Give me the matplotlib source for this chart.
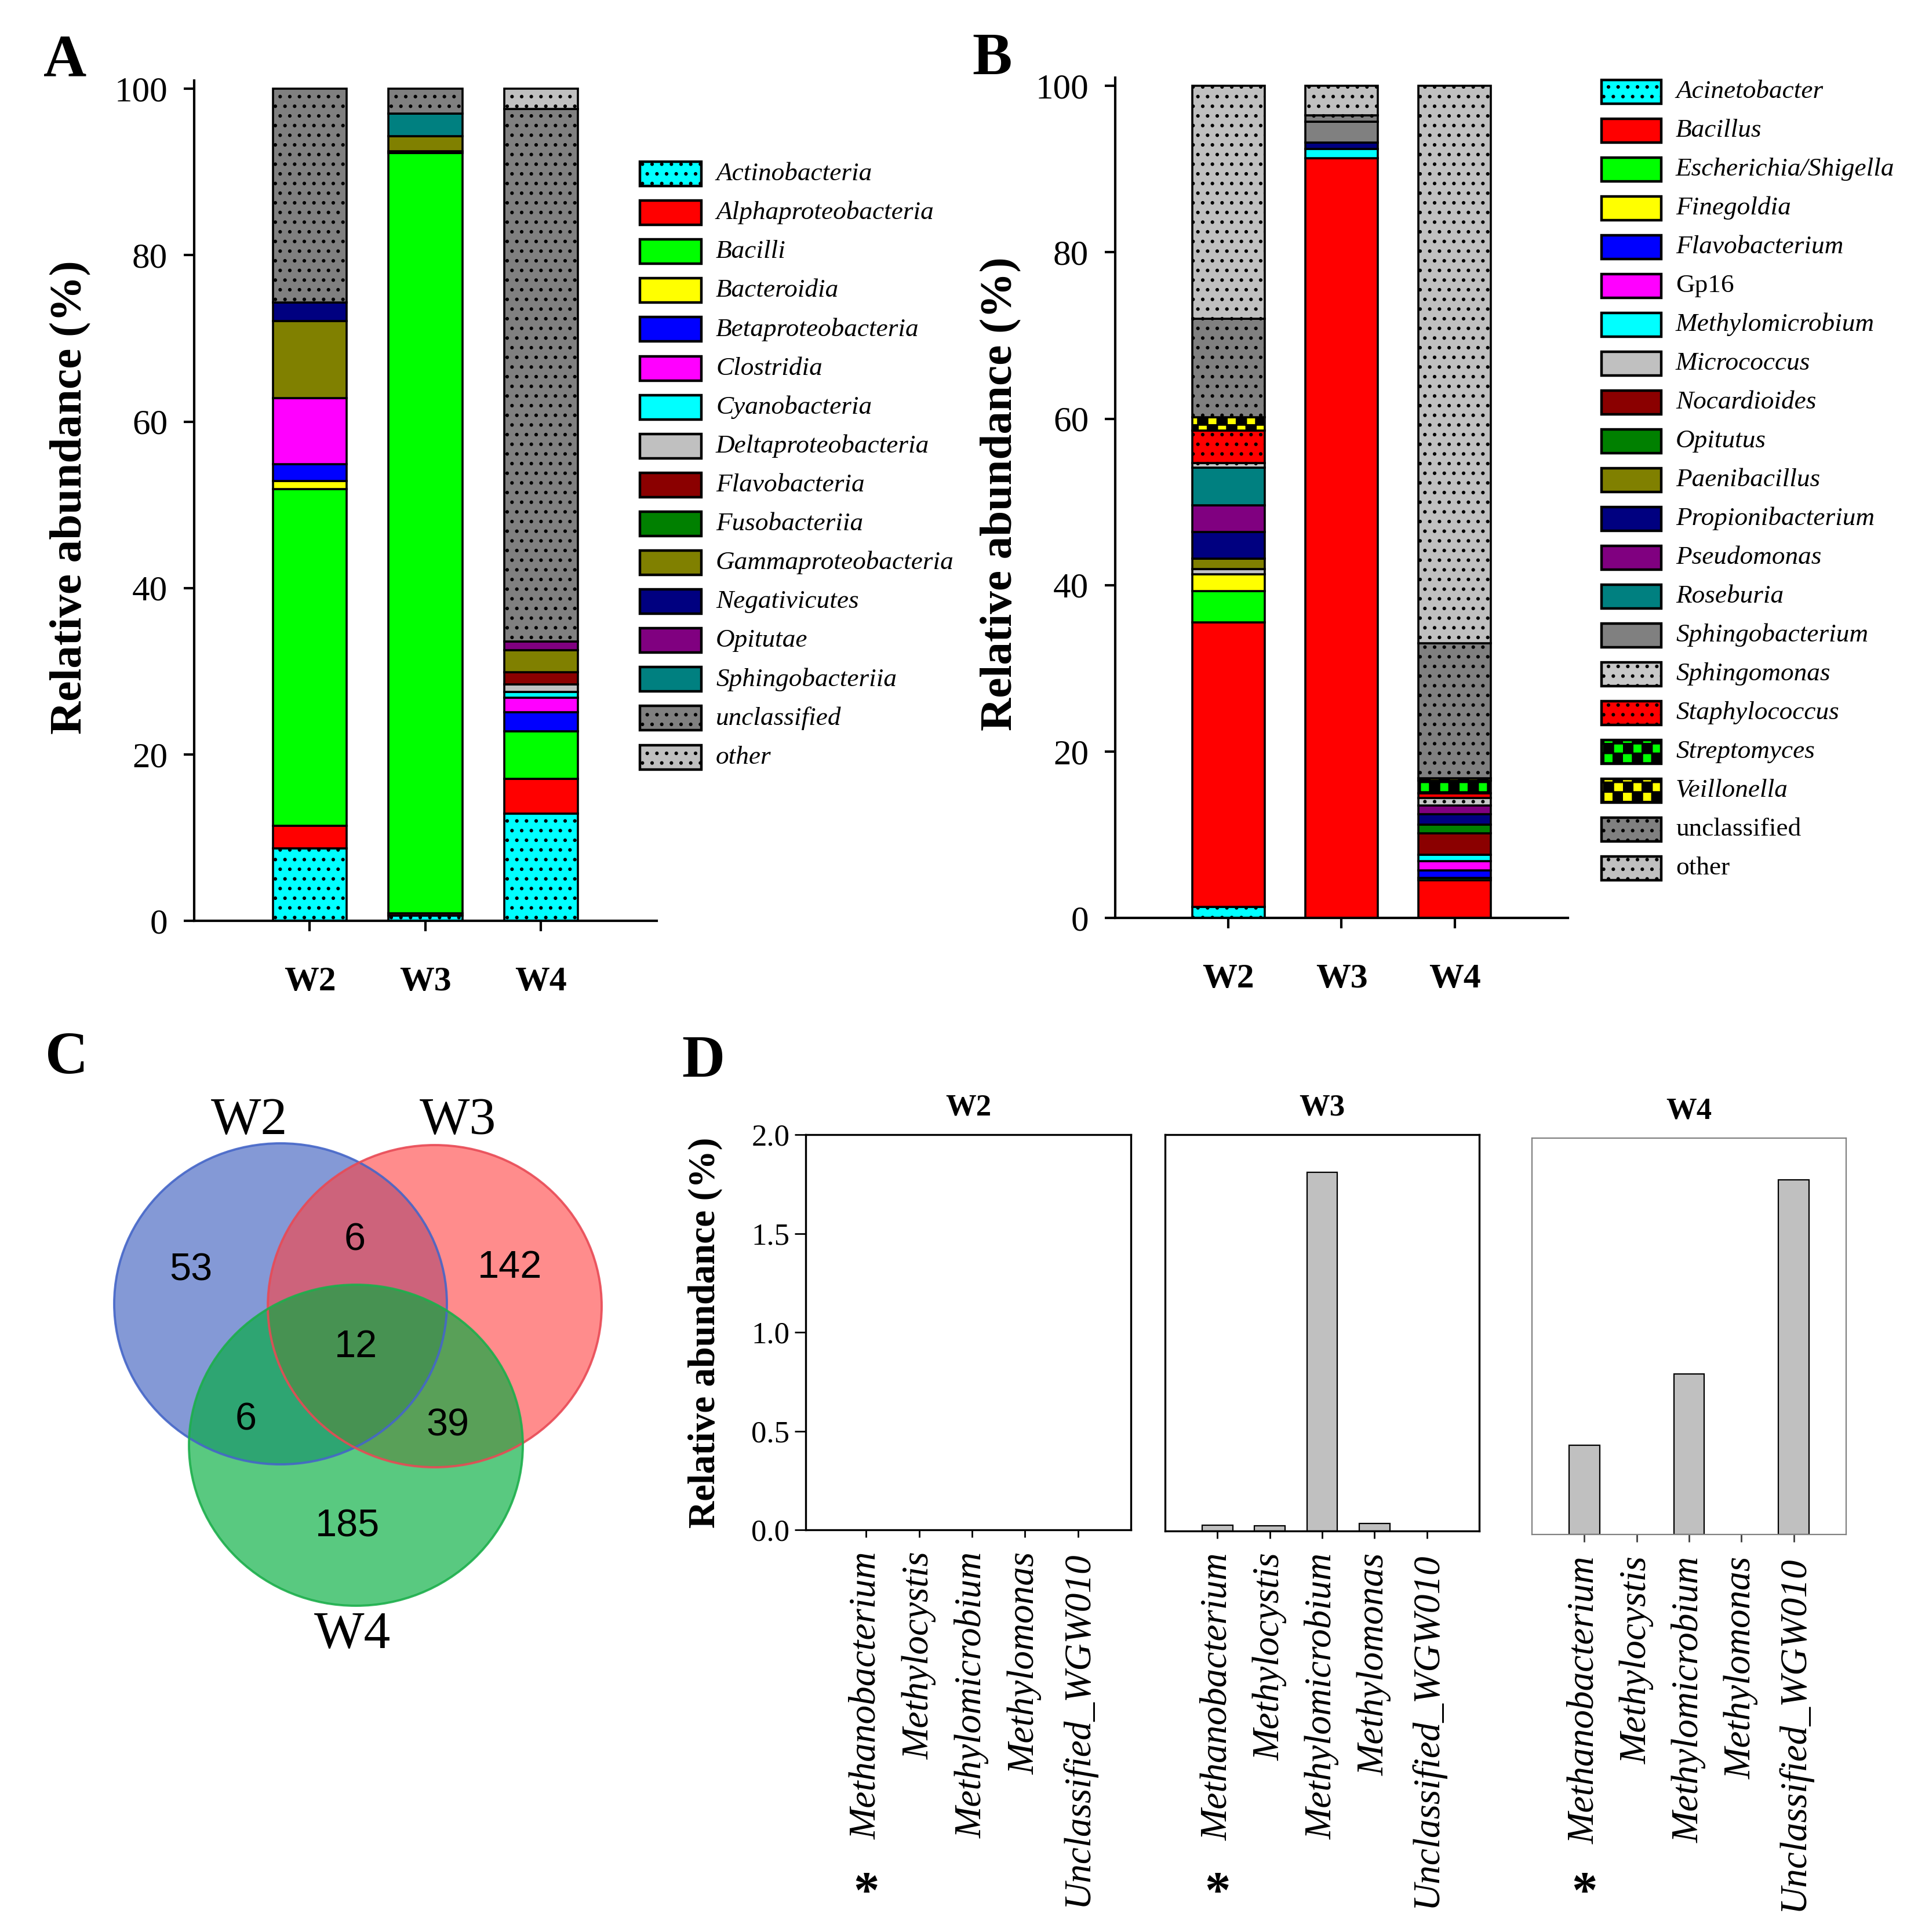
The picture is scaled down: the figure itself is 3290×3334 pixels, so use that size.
import warnings
warnings.filterwarnings("ignore")
import numpy as np
import matplotlib
matplotlib.use("Agg")
import matplotlib.pyplot as plt
from matplotlib.patches import Rectangle, Ellipse
from matplotlib.path import Path
from matplotlib.transforms import blended_transform_factory
import matplotlib.hatch as mhatch

# ---------------- data ----------------
samples = ["W2", "W3", "W4"]

classes_A = ["Actinobacteria", "Alphaproteobacteria", "Bacilli", "Bacteroidia",
             "Betaproteobacteria", "Clostridia", "Cyanobacteria", "Deltaproteobacteria",
             "Flavobacteria", "Fusobacteriia", "Gammaproteobacteria", "Negativicutes",
             "Opitutae", "Sphingobacteriia", "unclassified", "other"]
A_W2 = [8.7, 2.7, 40.5, 1.0, 2.0, 7.9, 0, 0, 0, 0, 9.3, 2.2, 0, 0, 25.7, 0]
A_W3 = [0.6, 0.3, 91.4, 0, 0.2, 0, 0, 0, 0, 0, 1.8, 0, 0, 2.7, 3.0, 0]
A_W4 = [12.9, 4.2, 5.7, 0, 2.3, 1.7, 0.7, 0.9, 1.5, 0, 2.6, 0, 1.1, 0, 64.0, 2.4]

genera_B = ["Acinetobacter", "Bacillus", "Escherichia/Shigella", "Finegoldia",
            "Flavobacterium", "Gp16", "Methylomicrobium", "Micrococcus", "Nocardioides",
            "Opitutus", "Paenibacillus", "Propionibacterium", "Pseudomonas", "Roseburia",
            "Sphingobacterium", "Sphingomonas", "Staphylococcus", "Streptomyces",
            "Veillonella", "unclassified", "other"]
B_W2 = [1.3, 34.2, 3.8, 2.0, 0, 0, 0, 0.6, 0, 0, 1.3, 3.2, 3.2, 4.5, 0, 0.6, 3.9, 0, 1.6, 11.8, 28.0]
B_W3 = [0, 91.3, 0, 0, 0, 0, 1.1, 0, 0, 0, 0, 0.8, 0, 0, 2.5, 0, 0, 0, 0, 0.8, 3.5]
B_W4 = [0, 4.5, 0.3, 0, 0.9, 1.1, 0.8, 0, 2.6, 1.0, 0, 1.3, 1.0, 0, 0, 0.9, 0.6, 1.5, 0.3, 16.2, 67.0]

venn_sets = ["W2", "W3", "W4"]
venn_regions = ["W2 only", "W2&W3", "W3 only", "W2&W3&W4", "W2&W4", "W3&W4", "W4 only"]
venn_counts = [53, 6, 142, 12, 6, 39, 185]

methano_genera = ["Methanobacterium", "Methylocystis", "Methylomicrobium",
                  "Methylomonas", "Unclassified_WGW010"]
D_W2 = [0.0, 0.0, 0.0, 0.0, 0.0]
D_W3 = [0.03, 0.025, 1.81, 0.038, 0.0]
D_W4 = [0.45, 0.0, 0.81, 0.0, 1.79]
D_ticks = [0.0, 0.5, 1.0, 1.5, 2.0]
y_ticks_AB = [0, 20, 40, 60, 80, 100]

# ---------------- styles ----------------
colors_A = ["#00FFFF", "#FF0000", "#00FF00", "#FFFF00", "#0000FF", "#FF00FF", "#00FFFF",
            "#C0C0C0", "#8B0000", "#008000", "#808000", "#000080", "#800080", "#008080",
            "#808080", "#C0C0C0"]
hatch_A = [".."] + [None] * 13 + ["..", ".."]
italic_A = [True] * 16

colors_B = ["#00FFFF", "#FF0000", "#00FF00", "#FFFF00", "#0000FF", "#FF00FF", "#00FFFF",
            "#C0C0C0", "#8B0000", "#008000", "#808000", "#000080", "#800080", "#008080",
            "#808080", "#C8C8C8", "#FF0000", "#00FF00", "#FFFF00", "#808080", "#C0C0C0"]
hatch_B = [".."] + [None] * 14 + ["..", "..", "cc", "cc", "..", ".."]
italic_B = [True] * 5 + [False] + [True] * 13 + [False, False]

W, H = 3291, 3334
DPI = 200
SERIF = ["Liberation Serif", "DejaVu Serif"]
SANS = ["Liberation Sans", "DejaVu Sans"]
plt.rcParams["font.family"] = SERIF
plt.rcParams["hatch.linewidth"] = 1.0
plt.rcParams["hatch.color"] = "black"


class CheckerHatch(mhatch.HatchPatternBase):
    """checkerboard hatch for the 'c' character"""
    def __init__(self, hatch, density):
        n = hatch.count("c") * density
        if n % 2:
            n += 1
        self.n = n
        self.num_vertices = (n * n // 2) * 5 if n else 0

    def set_vertices_and_codes(self, vertices, codes):
        n = self.n
        s = 1.0 / n
        k = 0
        for i in range(n):
            for j in range(n):
                if (i + j) % 2 == 0:
                    x, y = i * s, j * s
                    vertices[k:k + 5] = [(x, y), (x + s, y), (x + s, y + s), (x, y + s), (x, y)]
                    codes[k] = Path.MOVETO
                    codes[k + 1:k + 4] = Path.LINETO
                    codes[k + 4] = Path.CLOSEPOLY
                    k += 5


mhatch._hatch_types.append(CheckerHatch)

fig = plt.figure(figsize=(W / DPI, H / DPI), dpi=DPI)


def add_ax(x0, y0, x1, y1, **kw):
    return fig.add_axes([x0 / W, 1 - y1 / H, (x1 - x0) / W, (y1 - y0) / H], **kw)


def stacked(ax, names, data, colors, hatches):
    vals = np.array(data, dtype=float)
    x = np.arange(1, len(samples) + 1)
    bottom = np.zeros(len(samples))
    for j in range(len(names)):
        h = vals[:, j]
        m = h > 0
        if m.any():
            ax.bar(x[m], h[m], bottom=bottom[m], width=0.64, color=colors[j],
                   hatch=hatches[j], edgecolor="black", linewidth=1.3, zorder=2)
        bottom += h
    ax.set_xlim(0, 4)
    ax.set_ylim(0, 101)
    ax.set_xticks(x)
    ax.set_xticklabels(samples, fontweight="bold", fontsize=21.5)
    ax.set_yticks(y_ticks_AB)
    ax.set_yticklabels([str(t) for t in y_ticks_AB], fontsize=22)
    for s in ["top", "right"]:
        ax.spines[s].set_visible(False)
    for s in ["left", "bottom"]:
        ax.spines[s].set_linewidth(1.5)
    ax.tick_params(axis="y", direction="out", length=6.5, width=1.5, pad=10)
    ax.tick_params(axis="x", direction="out", length=6.5, width=1.5, pad=22)


axA = add_ax(335, 139, 1133, 1589)
stacked(axA, classes_A, [A_W2, A_W3, A_W4], colors_A, hatch_A)
axB = add_ax(1924, 134, 2705, 1584)
stacked(axB, genera_B, [B_W2, B_W3, B_W4], colors_B, hatch_B)

# ---------------- panel D ----------------
D_boxes = [(1390, 1958, 1951, 2640), (2010, 1958, 2552, 2642), (2643, 1964, 3185, 2648)]
D_xlims = [(-1.14, 5.0), (-1.0, 5.0), (-1.0, 5.0)]
D_data = [D_W2, D_W3, D_W4]
for k, (box, xl, vals) in enumerate(zip(D_boxes, D_xlims, D_data)):
    ax = add_ax(*box)
    xpos = np.arange(len(methano_genera))
    v = np.array(vals)
    m = v > 0
    if m.any():
        ax.bar(xpos[m], v[m], width=0.58, color="#C0C0C0", edgecolor="black", linewidth=0.8)
    ax.set_xlim(*xl)
    ax.set_ylim(0, 2.0)
    ax.set_xticks(xpos)
    ax.set_xticklabels(methano_genera, rotation=90, fontstyle="italic", fontsize=23.5)
    ax.tick_params(axis="x", direction="out", length=4.5, width=1.0, pad=9)
    ax.set_title(samples[k], fontweight="bold", fontsize=19, pad=12)
    if k == 0:
        ax.set_yticks(D_ticks)
        ax.set_yticklabels(["%.1f" % t for t in D_ticks], fontsize=19)
        ax.tick_params(axis="y", direction="out", length=7, width=1.0, pad=3)
    else:
        ax.set_yticks([])
    if k == 2:
        for s in ax.spines.values():
            s.set_linewidth(0.8)
            s.set_edgecolor("#808080")
        ax.tick_params(axis="x", color="#404040")
    else:
        for s in ax.spines.values():
            s.set_linewidth(1.2)
    tr = blended_transform_factory(ax.transData, fig.transFigure)
    ax.text(0, 1 - 3268 / H, "*", transform=tr, ha="center", va="center",
            fontsize=32, fontweight="bold", clip_on=False)

# ---------------- overlay: letters, labels, legends, venn ----------------
ov = add_ax(0, 0, W, H)
ov.set_xlim(0, W)
ov.set_ylim(H, 0)
ov.axis("off")
ov.patch.set_alpha(0)

for letter, (lx, ly) in zip("ABCD", [(75, 131), (1677, 128), (78, 1852), (1176, 1858)]):
    ov.text(lx, ly, letter, fontsize=37, fontweight="bold", ha="left", va="baseline")

ylab = "Relative abundance (%)"
ov.text(122, 858, ylab, rotation=90, fontsize=28.5, fontweight="bold", ha="center", va="center")
ov.text(1727, 852, ylab, rotation=90, fontsize=28.5, fontweight="bold", ha="center", va="center")
ov.text(1217, 2300, ylab, rotation=90, fontsize=23.5, fontweight="bold", ha="center", va="center")


def legend(names, colors, hatches, italics, sx0, sx1, tx, y0, dy, sh):
    for i, name in enumerate(names):
        yc = y0 + i * dy
        ov.add_patch(Rectangle((sx0, yc - sh / 2), sx1 - sx0, sh, facecolor=colors[i],
                               hatch=hatches[i], edgecolor="black", linewidth=1.6))
        ov.text(tx, yc, name, fontsize=16.3, fontstyle="italic" if italics[i] else "normal",
                ha="left", va="center")


legend(classes_A, colors_A, hatch_A, italic_A, 1104, 1210, 1235, 300, 67.1, 42)
legend(genera_B, colors_B, hatch_B, italic_B, 2763, 2866, 2891, 158, 67.0, 41)

# Venn diagram
venn_geom = {"W2": ((484, 2250), 287, 277, "#3255BC", "#4566C8"),
             "W3": ((750, 2254), 288, 278, "#FF3F3F", "#E84A55"),
             "W4": ((614, 2494), 288, 277, "#00AC3C", "#1DAF4C")}
venn_alpha = {"W2": 0.6, "W3": 0.6, "W4": 0.65}
for nm in venn_sets:
    (cx, cy), rx, ry, fc, ec = venn_geom[nm]
    ov.add_patch(Ellipse((cx, cy), 2 * rx, 2 * ry, facecolor=fc, alpha=venn_alpha[nm],
                         edgecolor="none"))
for nm in venn_sets:
    (cx, cy), rx, ry, fc, ec = venn_geom[nm]
    ov.add_patch(Ellipse((cx, cy), 2 * rx, 2 * ry, facecolor="none", edgecolor=ec,
                         linewidth=1.4, alpha=0.9))
set_label_pos = {"W2": (430, 1935), "W3": (790, 1935), "W4": (608, 2822)}
for nm in venn_sets:
    ov.text(*set_label_pos[nm], nm, fontsize=33, ha="center", va="center")
region_pos = [(329, 2192), (612, 2140), (880, 2188), (614, 2325), (424, 2450),
              (772, 2460), (600, 2634)]
for (px, py), c in zip(region_pos, venn_counts):
    ov.text(px, py, str(c), fontsize=24, family=SANS, ha="center", va="center")

fig.savefig("out.png", dpi=DPI)
